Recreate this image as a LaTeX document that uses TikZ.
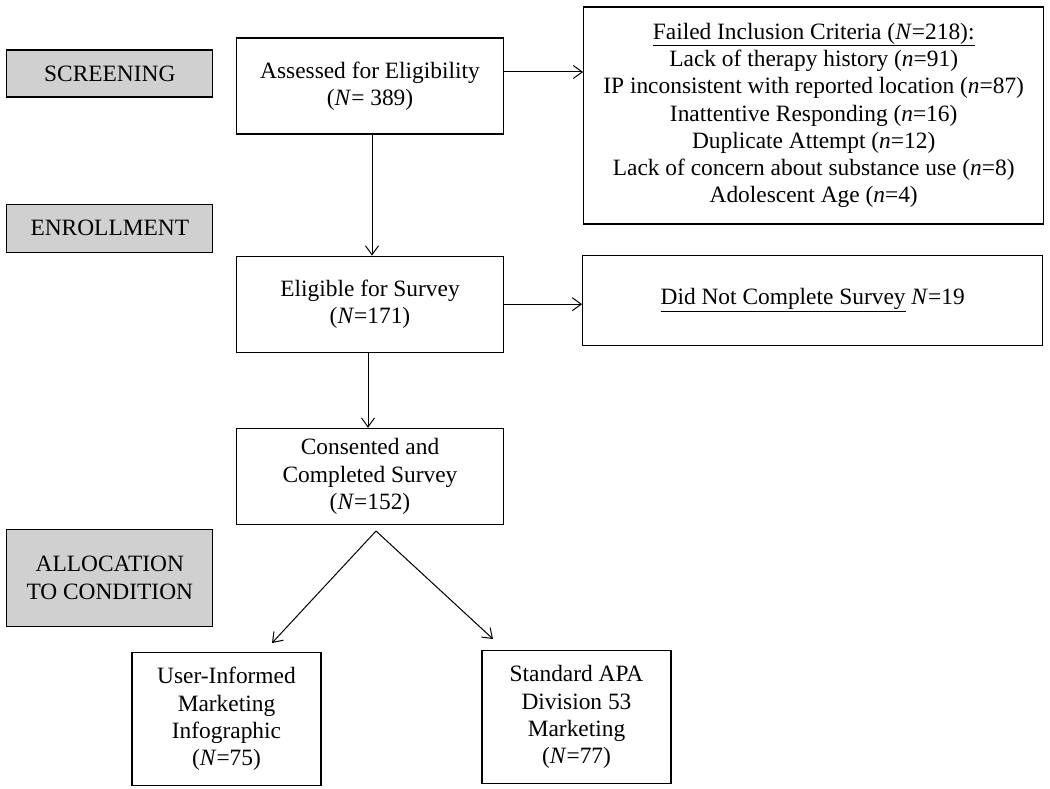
\documentclass[tikz,border=0pt]{standalone}
\usepackage{fontspec}
\setmainfont{Liberation Serif}
\usetikzlibrary{positioning,arrows.meta}
\definecolor{stagegray}{RGB}{208,208,208}
\newcommand{\boxfont}{\fontsize{23.4pt}{27.3pt}\selectfont}
\begin{document}
\begin{tikzpicture}[x=1pt, y=-1pt, every node/.style={draw, line width=1.2pt, align=center, inner sep=0pt, font=\boxfont}, stage/.style={fill=stagegray, minimum width=206pt}, box/.style={minimum width=267pt, minimum height=96pt}, side/.style={minimum width=460pt}, arm/.style={minimum width=189pt, minimum height=133pt}, arr/.style={-{Straight Barb[length=9pt,width=13pt]}, line width=1pt}]
            \useasboundingbox (0,0) rectangle (1050,789);
            \node[box] (assess) at (370,86) {Assessed for Eligibility\\(\textit{N}= 389)};
            \node[box, below=121pt of assess] (elig) {Eligible for Survey\\(\textit{N}=171)};
            \node[box, below=75pt of elig] (consent) {Consented and\\Completed Survey\\(\textit{N}=152)};
            \node[side, minimum height=217pt, right=79pt of assess, yshift=-29.5pt] (failed) {\underline{Failed Inclusion Criteria (\textit{N}=218):}\\Lack of therapy history (\textit{n}=91)\\IP inconsistent with reported location (\textit{n}=87)\\Inattentive Responding (\textit{n}=16)\\Duplicate Attempt (\textit{n}=12)\\Lack of concern about substance use (\textit{n}=8)\\Adolescent Age (\textit{n}=4)};
            \node[side, minimum height=90pt, right=78pt of elig, yshift=4pt] (dnc) {\underline{Did Not Complete Survey} \textit{N}=19};
            \node[arm, below=127pt of consent, xshift=-143.5pt] (user) {User-Informed\\Marketing\\Infographic\\(\textit{N}=75)};
            \node[arm, below=125pt of consent, xshift=206.5pt] (standard) {Standard APA\\Division 53\\Marketing\\(\textit{N}=77)};
            \node[stage, minimum height=47pt, left=22.5pt of assess, yshift=12.5pt] (screening) {SCREENING};
            \node[stage, minimum height=48pt, below=106pt of screening] (enrollment) {ENROLLMENT};
            \node[stage, minimum height=97pt, below=276pt of enrollment] (allocation) {ALLOCATION\\TO CONDITION};
            \coordinate[below=6pt of consent, xshift=6pt] (split);
            \draw[arr] ([yshift=14pt]assess.east) -- ([yshift=14pt]assess.east -| failed.west);
            \draw[arr] ([xshift=2pt]assess.south) -- ([xshift=2pt]assess.south |- elig.north);
            \draw[arr] (elig.east) -- (elig.east -| dnc.west);
            \draw[arr] ([xshift=-2pt]elig.south) -- ([xshift=-2pt]elig.south |- consent.north);
            \draw[arr] (split) -- ([xshift=45.5pt, yshift=9pt]user.north);
            \draw[arr] (split) -- ([xshift=-83.5pt, yshift=11pt]standard.north);
        \end{tikzpicture}
\end{document}
